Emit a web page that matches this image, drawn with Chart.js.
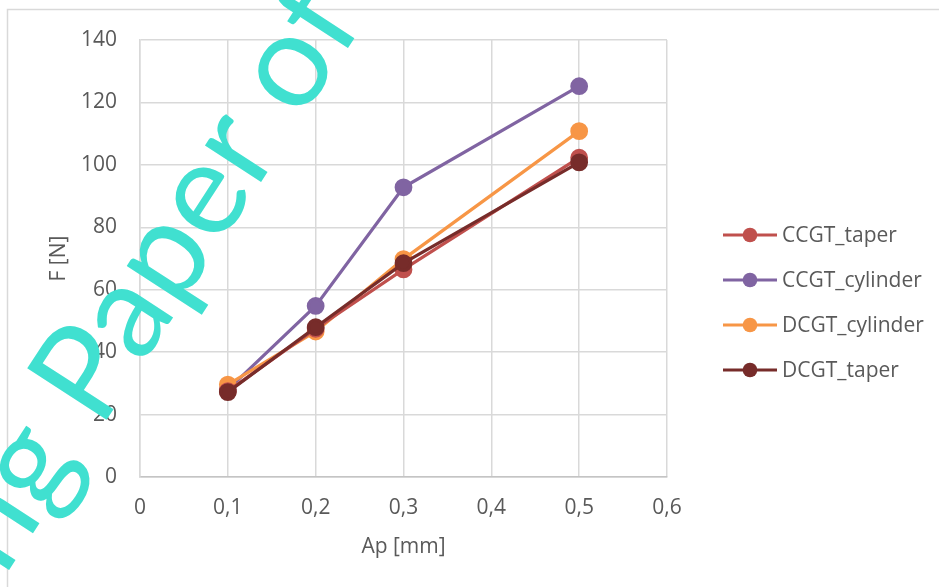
<!DOCTYPE html>
<html>
<head>
<meta charset="utf-8">
<script src="https://cdn.jsdelivr.net/npm/chart.js@4.4.1/dist/chart.umd.min.js"></script>
<style>
  html, body { margin: 0; padding: 0; background: #fff; overflow: hidden; }
  #wrap { width: 939px; height: 587px; position: relative; }
</style>
</head>
<body>
<div id="wrap"><canvas id="forceChart"></canvas></div>
<script>
// Cutting force vs depth of cut
const apValues = [0.1, 0.2, 0.3, 0.5];
const ccgtTaper = [27.5, 47.5, 66.5, 102.3];
const ccgtCylinder = [28.0, 54.8, 92.8, 125.2];
const dcgtCylinder = [29.6, 46.6, 69.8, 110.8];
const dcgtTaper = [27.2, 48.0, 68.5, 100.8];
const seriesNames = ['CCGT_taper', 'CCGT_cylinder', 'DCGT_cylinder', 'DCGT_taper'];
const seriesColors = ['#C0504D', '#8064A2', '#F79646', '#772C2A'];
const seriesOrder = [2, 4, 3, 1];
const xTicks = [0, 0.1, 0.2, 0.3, 0.4, 0.5, 0.6];
const yTicks = [0, 20, 40, 60, 80, 100, 120, 140];

const FONT = "'Open Sans', sans-serif";
const textColor = '#595959';
const gridColor = '#d9d9d9';

const allSeries = [ccgtTaper, ccgtCylinder, dcgtCylinder, dcgtTaper];

const datasets = allSeries.map((vals, i) => ({
  label: seriesNames[i],
  data: vals.map((v, j) => ({ x: apValues[j], y: v })),
  borderColor: seriesColors[i],
  backgroundColor: seriesColors[i],
  pointBackgroundColor: seriesColors[i],
  pointBorderColor: seriesColors[i],
  borderWidth: 3.2,
  pointRadius: 7.3,
  pointHoverRadius: 7.3,
  tension: 0,
  order: seriesOrder[i]
}));

// outer frame (chart box is cropped at right/bottom)
const framePlugin = {
  id: 'frame',
  beforeDraw(chart) {
    const ctx = chart.ctx;
    ctx.save();
    ctx.strokeStyle = gridColor;
    ctx.lineWidth = 1.5;
    ctx.strokeRect(7.5, 9.5, 1200, 1200);
    ctx.restore();
  }
};

// legend with line + marker, drawn from dataset props
const legendPlugin = {
  id: 'lineLegend',
  afterDraw(chart) {
    const ctx = chart.ctx;
    ctx.save();
    const rows = [235, 280, 325, 370];
    chart.data.datasets.forEach((ds, i) => {
      const y = rows[i];
      ctx.strokeStyle = ds.borderColor;
      ctx.lineWidth = 3.2;
      ctx.beginPath();
      ctx.moveTo(723, y);
      ctx.lineTo(777, y);
      ctx.stroke();
      ctx.fillStyle = ds.borderColor;
      ctx.beginPath();
      ctx.arc(750, y, 7.3, 0, Math.PI * 2);
      ctx.fill();
      ctx.fillStyle = textColor;
      ctx.font = '21px ' + FONT;
      ctx.textAlign = 'left';
      ctx.textBaseline = 'middle';
      ctx.fillText(ds.label, 782, y + 1);
    });
    ctx.restore();
  }
};

// diagonal watermark over the chart
const watermarkPlugin = {
  id: 'watermark',
  afterDraw(chart) {
    const ctx = chart.ctx;
    ctx.save();
    ctx.font = '132px Lato, sans-serif';
    ctx.fillStyle = '#40E0D0';
    ctx.translate(100, 430);
    ctx.rotate(-57 * Math.PI / 180);
    const pre = ctx.measureText('Working ').width;
    ctx.textAlign = 'left';
    ctx.textBaseline = 'alphabetic';
    ctx.fillText('Working Paper of', -pre, 0);
    ctx.restore();
  }
};

new Chart(document.getElementById('forceChart'), {
  type: 'line',
  data: { datasets: datasets },
  options: {
    responsive: true,
    maintainAspectRatio: false,
    animation: false,
    layout: { padding: { left: 0, top: 40, right: 272, bottom: 0 } },
    plugins: {
      legend: { display: false },
      tooltip: { enabled: false }
    },
    scales: {
      x: {
        type: 'linear',
        min: 0,
        max: 0.6,
        afterBuildTicks: scale => { scale.ticks = xTicks.map(v => ({ value: v })); },
        afterFit: scale => { scale.height = 110; },
        ticks: {
          padding: 18,
          color: textColor,
          font: { family: FONT, size: 21 },
          callback: v => String(Math.round(v * 10) / 10).replace('.', ',')
        },
        grid: { color: gridColor, lineWidth: 1.5, drawTicks: false },
        border: { color: '#c4c4c4', width: 1.5 },
        title: {
          display: true,
          text: 'Ap [mm]',
          color: textColor,
          font: { family: FONT, size: 21 },
          padding: { top: 0, bottom: 27 }
        }
      },
      y: {
        min: 0,
        max: 140,
        afterBuildTicks: scale => { scale.ticks = yTicks.map(v => ({ value: v })); },
        afterFit: scale => { scale.width = 140; },
        ticks: {
          padding: 23,
          color: textColor,
          font: { family: FONT, size: 21 }
        },
        grid: { color: gridColor, lineWidth: 1.5, drawTicks: false },
        border: { color: gridColor, width: 1.5 },
        title: {
          display: true,
          text: 'F [N]',
          color: textColor,
          font: { family: FONT, size: 21 },
          padding: { top: 46, bottom: 0 }
        }
      }
    }
  },
  plugins: [framePlugin, legendPlugin, watermarkPlugin]
});
</script>
</body>
</html>
